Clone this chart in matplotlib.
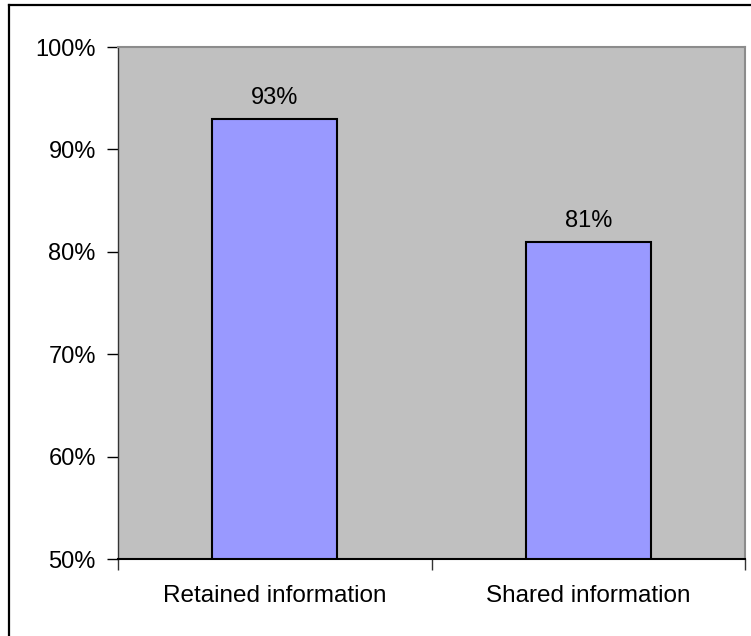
import matplotlib
matplotlib.use("Agg")
import matplotlib.pyplot as plt
from matplotlib.lines import Line2D
from matplotlib.ticker import FixedLocator, PercentFormatter

plt.rcParams['font.family'] = ['Liberation Sans', 'DejaVu Sans']

categories = ['Retained information', 'Shared information']
values = [93, 81]
yticks = [50, 60, 70, 80, 90, 100]

W, H = 751, 636
fig = plt.figure(figsize=(W / 100, H / 100), dpi=100)

# outer chart frame (left and top edges)
fig.add_artist(Line2D([9 / W, 9 / W], [0, 1 - 5 / H], transform=fig.transFigure,
                      color='black', lw=1.6, solid_capstyle='projecting'))
fig.add_artist(Line2D([9 / W, 1], [1 - 5 / H, 1 - 5 / H], transform=fig.transFigure,
                      color='black', lw=1.6, solid_capstyle='projecting'))

ax = fig.add_axes([118 / W, (H - 559) / H, 627 / W, 512 / H])
ax.set_facecolor('#C0C0C0')

x = range(len(categories))
bars = ax.bar(x, values, width=0.4, color='#9999FF', edgecolor='black', linewidth=1.5)

for xi, v in zip(x, values):
    ax.annotate(f'{v}%', (xi, v), xytext=(0, 7), textcoords='offset points',
                ha='center', va='bottom', fontsize=17)

ax.set_xlim(-0.5, len(categories) - 0.5)
ax.set_ylim(50, 100)
ax.set_yticks(yticks)
ax.yaxis.set_major_formatter(PercentFormatter(decimals=0))

ax.set_xticks(list(x))
ax.set_xticklabels(categories)
ax.xaxis.set_minor_locator(FixedLocator([-0.5, 0.5, 1.5]))
ax.tick_params(axis='x', which='major', length=0, pad=19, labelsize=17.5)
ax.tick_params(axis='x', which='minor', length=8, width=1, color='#333333', direction='out')
ax.tick_params(axis='y', length=8, width=1, direction='out', pad=8, labelsize=17)

ax.spines['bottom'].set_color('black')
ax.spines['bottom'].set_linewidth(1.5)
ax.spines['left'].set_color('#333333')
ax.spines['left'].set_linewidth(1)
ax.spines['top'].set_color('#8C8C8C')
ax.spines['top'].set_linewidth(1.5)
ax.spines['right'].set_color('#8C8C8C')
ax.spines['right'].set_linewidth(1.5)

fig.savefig('out.png', dpi=100, facecolor='white')
